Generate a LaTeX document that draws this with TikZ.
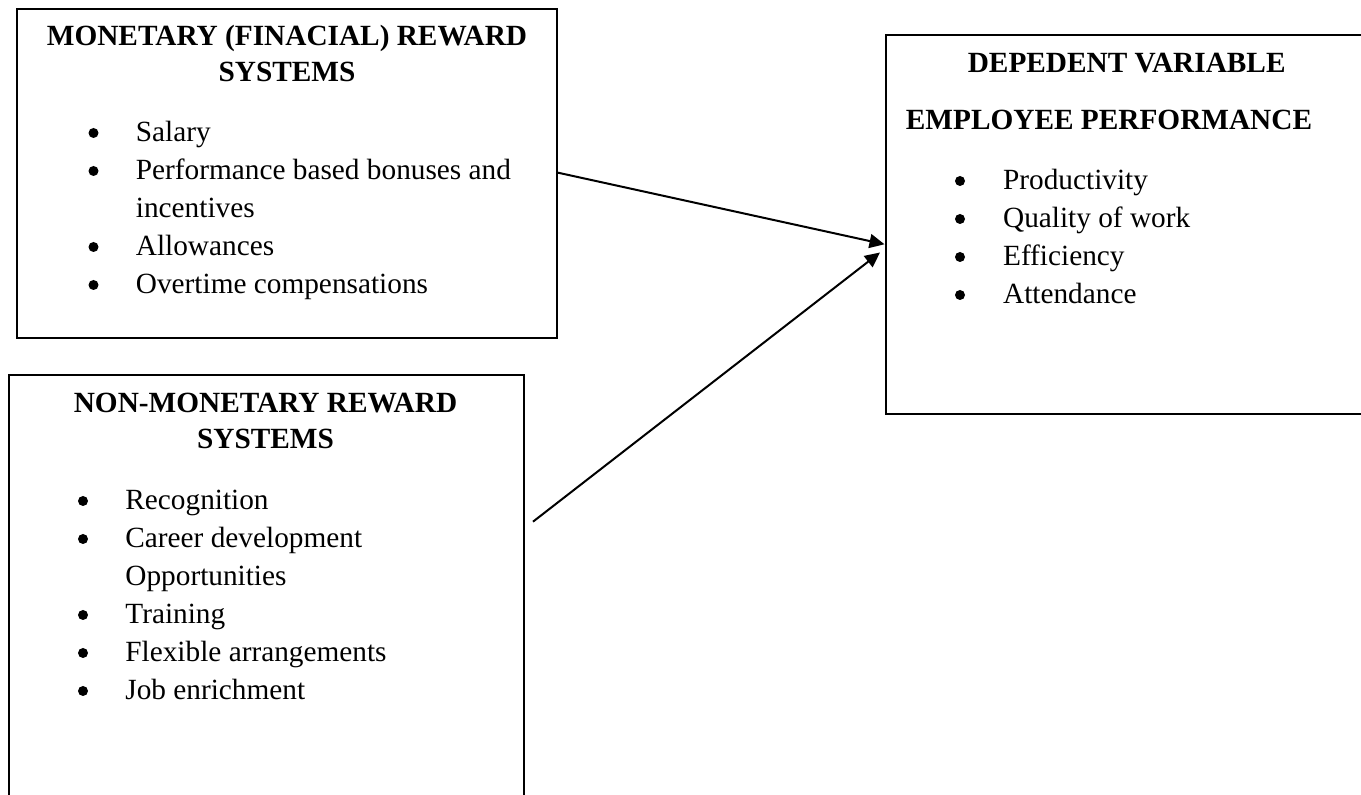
\documentclass[tikz,border=0pt]{standalone}
\usepackage{fontspec}
\setmainfont{Liberation Serif}
\usetikzlibrary{arrows.meta,calc}
\begin{document}
\begin{tikzpicture}[x=0.5pt,y=-0.5pt,
  panel/.style={draw=black,line width=1pt,rectangle,inner sep=0pt,anchor=north west},
  head/.style={font=\fontsize{14.65pt}{18pt}\selectfont\bfseries,inner sep=0pt,anchor=base},
  item/.style={font=\fontsize{14.65pt}{18pt}\selectfont,inner sep=0pt,anchor=base west},
  dot/.style={fill=black},
  link/.style={line width=1pt,-{Triangle[length=7.5pt,width=7pt]}}]
\useasboundingbox (0,0) rectangle (1361,795);
\clip (0,0) rectangle (1361,795);

% the three panels
\node[panel,minimum width=270pt,minimum height=164.5pt] (mon) at (16,8) {};
\node[panel,minimum width=257.5pt,minimum height=250pt] (non) at (8,374) {};
\node[panel,minimum width=242.5pt,minimum height=189.7pt] (dep) at (885,34) {};

% monetary rewards
\node[head] (monA) at (287,46) {MONETARY (FINACIAL) REWARD};
\node[head] (monB) at (287,82) {SYSTEMS};
\foreach \t/\y [count=\i] in {Salary/142,Performance based bonuses and/180,Allowances/256,Overtime compensations/294}{
  \fill[dot] (93.5,\y-9) circle[radius=2.5pt];
  \node[item] (monI\i) at (135.5,\y) {\t};
}
\node[item] (monC) at (135.5,218) {incentives};

% non-monetary rewards
\node[head] (nonA) at (265.5,413) {NON-MONETARY REWARD};
\node[head] (nonB) at (265.5,449) {SYSTEMS};
\foreach \t/\y [count=\i] in {Recognition/510,Career development/548,Training/624,Flexible arrangements/662,Job enrichment/700}{
  \fill[dot] (83,\y-9) circle[radius=2.5pt];
  \node[item] (nonI\i) at (125,\y) {\t};
}
\node[item] (nonC) at (125,586) {Opportunities};

% dependent variable
\node[head] (depA) at (1126.7,73) {DEPEDENT VARIABLE};
\node[head] (depB) at (1109,130) {EMPLOYEE PERFORMANCE};
\foreach \t/\y [count=\i] in {Productivity/190,Quality of work/228,Efficiency/266,Attendance/304}{
  \fill[dot] (960,\y-9) circle[radius=2.5pt];
  \node[item] (depI\i) at (1002.7,\y) {\t};
}

% influence arrows
\draw[link] ($(mon.north east)+(0,164.7)$) -- ($(dep.north west)+(-0.5,210.3)$);
\draw[link] ($(non.north east)+(8,147.7)$) -- ($(dep.north west)+(-5,218.5)$);
\end{tikzpicture}
\end{document}
